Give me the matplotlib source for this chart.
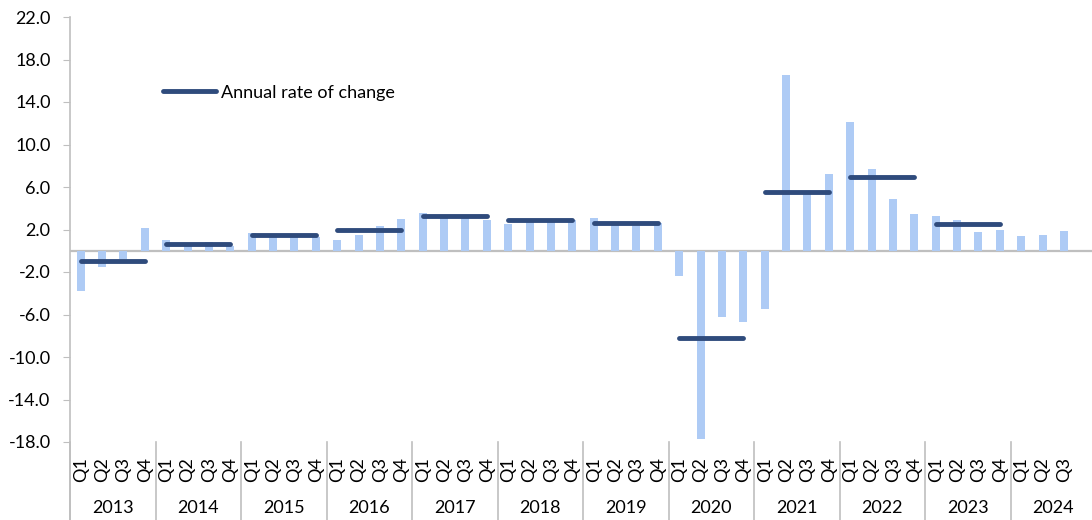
import matplotlib
matplotlib.use("Agg")
import matplotlib.pyplot as plt
from matplotlib.lines import Line2D
from matplotlib.transforms import blended_transform_factory

plt.rcParams['font.family'] = ['Lato', 'DejaVu Sans']

# quarterly rate of change, 2013Q1 .. 2024Q3
years = ['2013', '2014', '2015', '2016', '2017', '2018', '2019', '2020',
         '2021', '2022', '2023', '2024']
quarters = ['Q1', 'Q2', 'Q3', 'Q4']
quarterly = [-3.8, -1.5, -0.8, 2.1,
             1.0, 0.5, 0.8, 0.45,
             1.7, 1.5, 1.4, 1.25,
             1.0, 1.45, 2.35, 3.0,
             3.6, 3.2, 3.1, 2.9,
             2.5, 3.0, 3.0, 2.85,
             3.1, 2.5, 2.35, 2.6,
             -2.4, -17.7, -6.25, -6.7,
             -5.45, 16.5, 5.3, 7.2,
             12.1, 7.65, 4.9, 3.5,
             3.25, 2.85, 1.75, 2.0,
             1.35, 1.5, 1.85]
# annual rate of change, 2013 .. 2023
annual = [-1.0, 0.6, 1.5, 2.0, 3.25, 2.9, 2.6, -8.2, 5.55, 6.95, 2.5]

bar_color = '#AECBF5'
line_color = '#2F4B7C'
grey = '#BFBFBF'
fs = 13

fig = plt.figure(figsize=(10.92, 5.2), dpi=100)
ax = fig.add_axes([70 / 1092, 1 - 442 / 520, 1026 / 1092, 425 / 520])

x = list(range(len(quarterly)))
ax.bar(x, quarterly, width=0.37, color=bar_color, zorder=2)

for i, v in enumerate(annual):
    xs = [4 * i, 4 * i + 3]
    ax.plot(xs, [v, v], color=line_color, lw=3.5, solid_capstyle='round',
            zorder=3, label='Annual rate of change' if i == 0 else None)

ax.axhline(0, color=grey, lw=1.6, zorder=1)

ax.set_xlim(-0.5, 4 * len(years) - 0.5)
ax.set_ylim(-18, 22)
ax.set_yticks(range(-18, 23, 4))
ax.set_yticklabels(['%.1f' % t for t in range(-18, 23, 4)], fontsize=fs)
ax.tick_params(axis='y', length=5, color=grey, pad=9)

ax.set_xticks(range(4 * len(years)))
ax.set_xticklabels(quarters * (len(years) - 1) + ['Q1', 'Q2', 'Q3', ''],
                   rotation=90, fontsize=fs)
ax.tick_params(axis='x', length=0, pad=11)

for s in ['top', 'right', 'bottom', 'left']:
    ax.spines[s].set_visible(False)

# y axis line, running down through the category labels
fig.add_artist(Line2D([70 / 1092, 70 / 1092], [0, 1 - 17 / 520],
                      color=grey, lw=1.2, transform=fig.transFigure))

# year separators and labels below the plot
tr = blended_transform_factory(ax.transData, ax.transAxes)
for k, yr in enumerate(years):
    ax.plot([4 * k - 0.5, 4 * k - 0.5], [0, -0.2], color=grey, lw=1.2,
            transform=tr, clip_on=False)
    ax.text(4 * k + 1.5, -0.155, yr, transform=tr, ha='center', va='center',
            fontsize=fs)

leg = ax.legend(loc='center left', bbox_to_anchor=(0.075, 0.822), frameon=False,
                fontsize=fs, handlelength=2.95, handletextpad=0.25)

fig.savefig('out.png', dpi=100)
